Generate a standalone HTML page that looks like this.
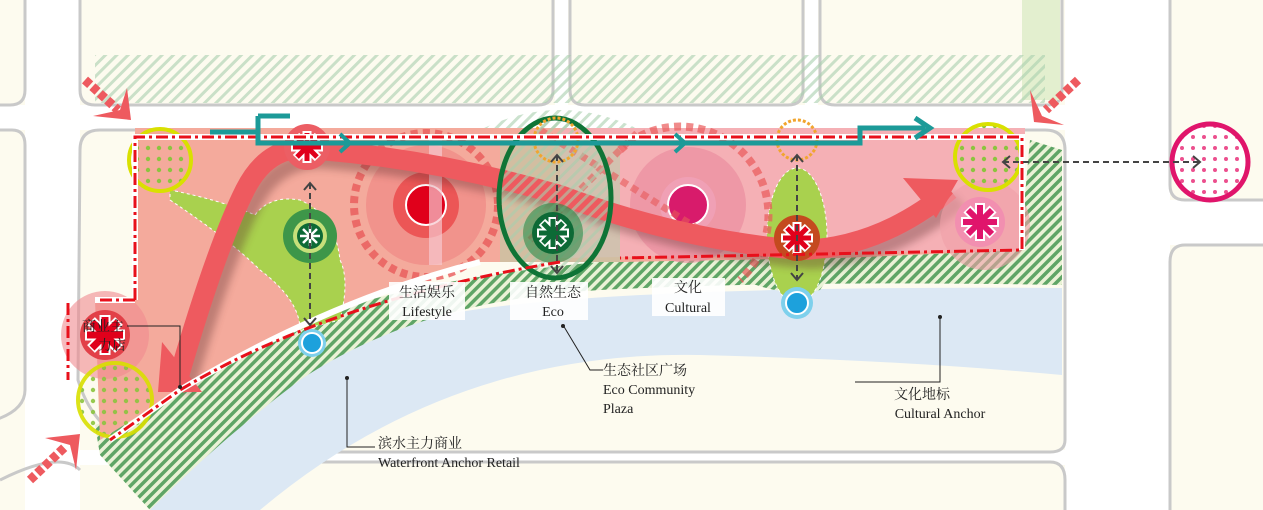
<!DOCTYPE html>
<html><head><meta charset="utf-8"><style>
html,body{margin:0;padding:0;background:#fdfbef}
svg{display:block}
text{font-family:"Liberation Serif","Noto Serif CJK SC","Noto Sans CJK SC",serif;fill:#222}
</style></head><body>
<svg width="1263" height="510" viewBox="0 0 1263 510" xmlns="http://www.w3.org/2000/svg">
<defs>
<pattern id="hg" width="7" height="7" patternUnits="userSpaceOnUse" patternTransform="rotate(45)">
<rect width="7" height="7" fill="#eaf2d6"/><rect width="3.5" height="7" fill="#5fa566"/></pattern>
<pattern id="hl" width="8" height="8" patternUnits="userSpaceOnUse" patternTransform="rotate(45)">
<rect width="3" height="8" fill="#a9cfae" opacity="0.6"/></pattern>
<pattern id="dg" width="11" height="11" patternUnits="userSpaceOnUse">
<circle cx="5" cy="5" r="2.2" fill="#8cc43f"/></pattern>
<pattern id="dp" width="11" height="11" patternUnits="userSpaceOnUse">
<rect width="11" height="11" fill="#fff"/><circle cx="5" cy="5" r="2" fill="#ec4f8e"/></pattern>
<filter id="sh" x="-10%" y="-10%" width="120%" height="130%"><feGaussianBlur stdDeviation="4"/></filter>
</defs>
<rect width="1263" height="510" fill="#fdfbef"/>
<rect x="25" y="0" width="55" height="510" fill="#fff"/>
<rect x="0" y="105" width="1263" height="25" fill="#fff"/>
<rect x="1065" y="0" width="105" height="510" fill="#fff"/>
<rect x="555" y="0" width="13" height="130" fill="#fff"/>
<rect x="805" y="0" width="13" height="130" fill="#fff"/>
<rect x="1170" y="200" width="93" height="45" fill="#fff"/>
<rect x="78" y="450" width="990" height="15" fill="#fff"/>
<g fill="#fdfbef" stroke="#c9c9c9" stroke-width="3">
<path d="M-5,-5 H25 V90 Q25,105 10,105 H-5Z"/>
<path d="M-5,130 H12 Q25,130 25,145 V390 Q25,410 -5,420"/>
<path d="M80,-5 H553 V90 Q553,105 538,105 H95 Q80,105 80,90Z"/>
<path d="M570,-5 H803 V90 Q803,105 788,105 H585 Q570,105 570,90Z"/>
<path d="M820,-5 H1062 V90 Q1062,105 1047,105 H835 Q820,105 820,90Z"/>
<path d="M80,150 Q80,130 100,130 H1045 Q1065,130 1065,150 V440 Q1065,452 1050,452 H180 Q100,452 78,380Z"/>
<path d="M1170,-5 H1270 V200 H1185 Q1170,200 1170,185Z"/>
<path d="M1185,245 H1270 V515 H1170 V262 Q1170,245 1185,245Z"/>
<path d="M200,515 Q240,462 300,462 H1050 Q1065,462 1065,480 V515Z"/>
</g>
<rect x="1022" y="0" width="38" height="100" fill="#e3efcf"/>
<path d="M0,480 Q60,450 80,470" fill="none" stroke="#c9c9c9" stroke-width="3"/>
<rect x="95" y="55" width="950" height="48" fill="url(#hl)"/>
<path d="M480,130 Q560,90 640,130Z" fill="url(#hl)"/>
<path d="M150,510 Q250,380 420,320 Q560,285 1062,288 V375 Q900,360 700,355 Q450,350 260,510Z" fill="#dce8f4"/>
<path d="M95,425 Q160,400 260,340 Q400,270 700,255 L1020,250 L1030,140 L1062,150 V285 Q800,280 600,290 Q420,300 300,380 Q220,440 150,510 L100,455Z" fill="url(#hg)"/>
<path d="M720,270 Q780,300 820,290 L840,260Z" fill="url(#hg)"/>
<path d="M135,128 H1025 V250 L840,258 L620,262 L480,262 Q330,300 180,390 L100,440 L95,300 L135,300Z" fill="#f4aa9c"/>
<path d="M560,128 H1025 V250 L560,258Z" fill="#f5b2bc" opacity="0.8"/>
<path d="M500,135 H620 V262 H500Z" fill="#a8d6a9" opacity="0.45"/>
<path d="M170,200 Q230,240 260,270 Q300,300 300,330 L340,320 Q350,280 340,260 Q335,215 300,200 Q270,195 255,215 Q220,200 170,190Z" fill="#a9d14e" stroke="#fff" stroke-dasharray="3 3"/>
<ellipse cx="797" cy="236" rx="30" ry="68" fill="#a9d14e" stroke="#fff" stroke-dasharray="3 3"/>
<circle cx="426" cy="205" r="60" fill="#ef7f7f" opacity="0.55"/>
<circle cx="426" cy="205" r="72" fill="none" stroke="#e95a5a" stroke-width="8" stroke-dasharray="7 5" opacity="0.8"/>
<circle cx="426" cy="205" r="33" fill="#ec5656"/>
<circle cx="426" cy="205" r="20" fill="#e0001b" stroke="#fff" stroke-width="2"/>
<rect x="429" y="135" width="13" height="130" fill="#f7c7cf" opacity="0.7"/>
<circle cx="688" cy="205" r="58" fill="#e9899d" opacity="0.6"/>
<path d="M620,150 A80,80 0 0 1 740,280" fill="none" stroke="#e95a5a" stroke-width="8" stroke-dasharray="7 5" opacity="0.7"/>
<circle cx="688" cy="205" r="28" fill="#f0a0b5"/>
<circle cx="688" cy="205" r="20" fill="#d81b6b" stroke="#fff" stroke-width="2"/>
<path d="M540,130 L700,230 M530,240 L640,130" stroke="#e85a5a" stroke-width="7" stroke-dasharray="7 5" opacity="0.6"/>
<!-- red flow arrow with shadow -->
<path d="M185,392 Q225,255 255,200 Q280,155 330,160 Q450,170 570,205 Q690,250 810,260 Q890,258 960,200" fill="none" stroke="#5a2a2a" stroke-width="18" opacity="0.35" filter="url(#sh)"/>
<path d="M175,390 Q215,250 245,190 Q270,140 320,150 Q440,160 560,195 Q680,240 800,250 Q880,248 950,190" fill="none" stroke="#ee5a5f" stroke-width="20"/>
<polygon points="903,178 958,180 936,218" fill="#ee5a5f"/>
<polygon points="162,342 202,392 158,392" fill="#ee5a5f"/>
<ellipse cx="555" cy="198" rx="56" ry="80" fill="url(#hl)" stroke="#0f7436" stroke-width="5"/>
<circle cx="553" cy="233" r="30" fill="#2e8a4a" opacity="0.6"/>
<circle cx="553" cy="233" r="21" fill="#0d6a36"/>
<g stroke="#fff" stroke-width="9"><line x1="553" y1="217" x2="553" y2="249"/><line x1="537" y1="233" x2="569" y2="233"/><line x1="542" y1="222" x2="564" y2="244"/><line x1="542" y1="244" x2="564" y2="222"/></g>
<g stroke="#0d6a36" stroke-width="5"><line x1="553" y1="219" x2="553" y2="247"/><line x1="539" y1="233" x2="567" y2="233"/><line x1="543" y1="223" x2="563" y2="243"/><line x1="543" y1="243" x2="563" y2="223"/></g>
<circle cx="556" cy="140" r="22" fill="none" stroke="#f1a52e" stroke-width="3" stroke-dasharray="3 2"/>
<circle cx="797" cy="140" r="20" fill="none" stroke="#f1a52e" stroke-width="3" stroke-dasharray="3 2"/>
<circle cx="310" cy="236" r="27" fill="#3d9649"/>
<circle cx="310" cy="236" r="17" fill="#c6e07a"/>
<circle cx="310" cy="236" r="13" fill="#0d6a36"/>
<g stroke="#fff" stroke-width="2.5"><line x1="310" y1="226" x2="310" y2="246"/><line x1="300" y1="236" x2="320" y2="236"/><line x1="303" y1="229" x2="317" y2="243"/><line x1="303" y1="243" x2="317" y2="229"/></g>
<!-- red nodes -->
<circle cx="307" cy="147" r="23" fill="#ec5e64"/>
<g stroke="#fff" stroke-width="9"><line x1="307" y1="131" x2="307" y2="163"/><line x1="291" y1="147" x2="323" y2="147"/><line x1="296" y1="136" x2="318" y2="158"/><line x1="296" y1="158" x2="318" y2="136"/></g>
<g stroke="#e0001b" stroke-width="5"><line x1="307" y1="133" x2="307" y2="161"/><line x1="293" y1="147" x2="321" y2="147"/><line x1="297" y1="137" x2="317" y2="157"/><line x1="297" y1="157" x2="317" y2="137"/></g>
<circle cx="797" cy="238" r="23" fill="#c44a1f"/>
<g stroke="#fff" stroke-width="9"><line x1="797" y1="222" x2="797" y2="254"/><line x1="781" y1="238" x2="813" y2="238"/><line x1="786" y1="227" x2="808" y2="249"/><line x1="786" y1="249" x2="808" y2="227"/></g>
<g stroke="#e0001b" stroke-width="5"><line x1="797" y1="224" x2="797" y2="252"/><line x1="783" y1="238" x2="811" y2="238"/><line x1="787" y1="228" x2="807" y2="248"/><line x1="787" y1="248" x2="807" y2="228"/></g>
<circle cx="985" cy="225" r="45" fill="#f0a0a8" opacity="0.6"/>
<circle cx="980" cy="222" r="25" fill="#f28fb0"/>
<g stroke="#fff" stroke-width="10"><line x1="980" y1="203" x2="980" y2="241"/><line x1="961" y1="222" x2="999" y2="222"/><line x1="967" y1="209" x2="993" y2="235"/><line x1="967" y1="235" x2="993" y2="209"/></g>
<g stroke="#e0156b" stroke-width="6"><line x1="980" y1="205" x2="980" y2="239"/><line x1="963" y1="222" x2="997" y2="222"/><line x1="968" y1="210" x2="992" y2="234"/><line x1="968" y1="234" x2="992" y2="210"/></g>
<circle cx="105" cy="335" r="44" fill="#f08a8f" opacity="0.6"/>
<circle cx="105" cy="335" r="25" fill="#e24048"/>
<g stroke="#fff" stroke-width="11"><line x1="105" y1="315" x2="105" y2="355"/><line x1="85" y1="335" x2="125" y2="335"/><line x1="91" y1="321" x2="119" y2="349"/><line x1="91" y1="349" x2="119" y2="321"/></g>
<g stroke="#e0001b" stroke-width="7"><line x1="105" y1="317" x2="105" y2="353"/><line x1="87" y1="335" x2="123" y2="335"/><line x1="92" y1="322" x2="118" y2="348"/><line x1="92" y1="348" x2="118" y2="322"/></g>
<circle cx="312" cy="343" r="14" fill="#7ed0ec"/><circle cx="312" cy="343" r="10" fill="#1da1dc" stroke="#fff" stroke-width="2"/>
<circle cx="797" cy="303" r="16" fill="#7ed0ec"/><circle cx="797" cy="303" r="11" fill="#1da1dc" stroke="#fff" stroke-width="2"/>
<circle cx="160" cy="160" r="31" fill="url(#dg)" stroke="#d9e000" stroke-width="4"/>
<circle cx="115" cy="400" r="37" fill="url(#dg)" stroke="#d9e000" stroke-width="4" opacity="0.9"/>
<circle cx="988" cy="157" r="33" fill="url(#dg)" stroke="#d9e000" stroke-width="4"/>
<circle cx="1210" cy="162" r="38" fill="url(#dp)" stroke="#e0156b" stroke-width="5"/>
<path d="M135,300 V137 H1022 V250 M480,262 Q330,300 180,390 L110,440 M95,300 H135" fill="none" stroke="#fff" stroke-width="6"/>
<path d="M135,300 V137 H1022 V250 L620,258 M560,262 Q330,300 180,390 L110,440 M100,300 H135 M68,303 V380" fill="none" stroke="#e8101b" stroke-width="3" stroke-dasharray="12 4 3 4"/>
<path d="M210,132 H258 V116 M258,116 H290 M258,116 V143 H590 V143 H860 V128 H925" fill="none" stroke="#1c9a98" stroke-width="5"/>
<polyline points="915,118 930,128 915,138" fill="none" stroke="#1c9a98" stroke-width="5"/>
<polyline points="340,134 350,143 340,152" fill="none" stroke="#1c9a98" stroke-width="4"/>
<polyline points="675,134 685,143 675,152" fill="none" stroke="#1c9a98" stroke-width="4"/>
<g stroke="#444" stroke-width="2" stroke-dasharray="6 4" fill="none">
<line x1="310" y1="183" x2="310" y2="325"/><line x1="557" y1="155" x2="557" y2="272"/><line x1="797" y1="155" x2="797" y2="280"/>
<line x1="1003" y1="162" x2="1200" y2="162"/></g>
<g stroke="#444" stroke-width="2" fill="none">
<polyline points="304,190 310,183 316,190"/><polyline points="304,318 310,325 316,318"/>
<polyline points="551,162 557,155 563,162"/><polyline points="551,266 557,273 563,266"/>
<polyline points="791,162 797,155 803,162"/><polyline points="791,273 797,280 803,273"/>
<polyline points="1010,156 1003,162 1010,168"/><polyline points="1193,156 1200,162 1193,168"/></g>
<g stroke="#ee5a5f" stroke-width="9" stroke-dasharray="7 3" fill="none">
<line x1="85" y1="80" x2="118" y2="110"/><line x1="30" y1="480" x2="66" y2="446"/><line x1="1078" y1="80" x2="1046" y2="110"/></g>
<g fill="#ee5a5f">
<polygon points="93,116 131,120 127,88 120,110"/>
<polygon points="45,438 80,434 76,470 70,445"/>
<polygon points="1030,90 1034,122 1064,125 1042,116"/>
</g>
<g stroke="#222" stroke-width="1" fill="none">
<polyline points="127,326 180,326 180,386"/>
<polyline points="563,325 590,370 603,370"/>
<polyline points="347,378 347,447 375,447"/>
<polyline points="940,317 940,382 855,382"/></g>
<g fill="#222"><circle cx="180" cy="387" r="2"/><circle cx="563" cy="326" r="2"/><circle cx="347" cy="378" r="2"/><circle cx="940" cy="317" r="2"/></g>
<g fill="#fff" opacity="0.9"><rect x="389" y="282" width="76" height="38"/><rect x="510" y="282" width="78" height="38"/><rect x="652" y="278" width="73" height="38"/></g>
<g font-size="14" text-anchor="middle">
<text x="427" y="297" font-family="Noto Sans CJK SC">生活娱乐</text><text x="427" y="316">Lifestyle</text>
<text x="553" y="297" font-family="Noto Sans CJK SC">自然生态</text><text x="553" y="316">Eco</text>
<text x="688" y="292" font-family="Noto Sans CJK SC">文化</text><text x="688" y="312">Cultural</text>
<text x="922" y="399" font-family="Noto Sans CJK SC">文化地标</text><text x="940" y="418">Cultural Anchor</text>
</g>
<g font-size="14">
<text x="82" y="331" font-family="Noto Sans CJK SC">商业主</text><text x="98" y="350" font-family="Noto Sans CJK SC">力店</text>
<text x="603" y="375" font-family="Noto Sans CJK SC">生态社区广场</text><text x="603" y="394">Eco Community</text><text x="603" y="413">Plaza</text>
<text x="378" y="448" font-family="Noto Sans CJK SC">滨水主力商业</text><text x="378" y="467">Waterfront Anchor Retail</text>
</g>
</svg>
</body></html>
